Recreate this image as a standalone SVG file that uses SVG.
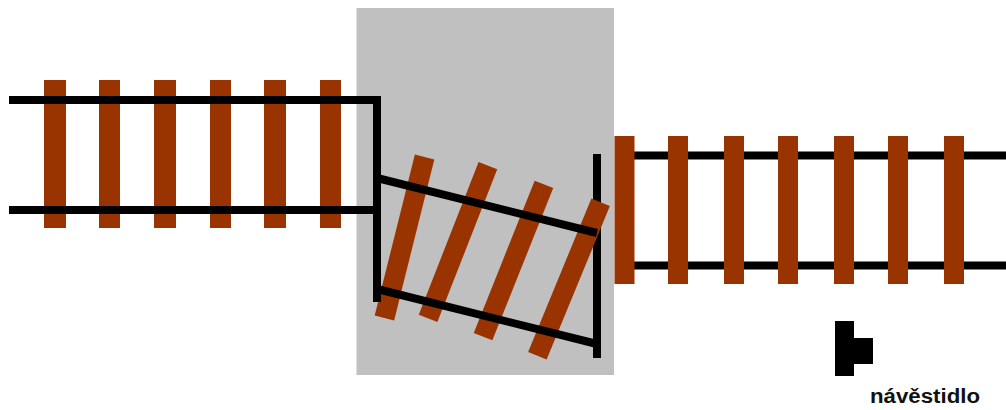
<svg xmlns="http://www.w3.org/2000/svg" width="1006" height="410" viewBox="0 0 1006 410">
  <style>
    .tie { fill: #993300; }
    .rail { stroke: #000; stroke-width: 8; fill: none; }
    .label { font-family: "Liberation Sans", Arial, sans-serif; font-weight: bold; font-size: 20px; fill: #111; }
  </style>
  <rect width="1006" height="410" fill="#fff"/>

  <!-- turntable pit -->
  <rect id="pit" x="356.5" y="8" width="257.5" height="367" fill="#c0c0c0"/>

  <!-- left approach track: rails laid over sleepers -->
  <g id="track-left">
    <rect class="tie" x="44" y="80" width="22" height="148"/>
    <rect class="tie" x="99" y="80" width="21" height="148"/>
    <rect class="tie" x="154" y="80" width="22" height="148"/>
    <rect class="tie" x="210" y="80" width="21" height="148"/>
    <rect class="tie" x="264" y="80" width="22" height="148"/>
    <rect class="tie" x="320" y="80" width="21" height="148"/>
    <path class="rail" d="M9 100 H377 M9 210 H377"/>
  </g>

  <!-- right track: sleepers laid over rails -->
  <g id="track-right">
    <path class="rail" d="M615 155.5 H1006 M615 265.5 H1006"/>
    <rect class="tie" x="614.5" y="136" width="20" height="148"/>
    <rect class="tie" x="668" y="136" width="20" height="148"/>
    <rect class="tie" x="724" y="136" width="20" height="148"/>
    <rect class="tie" x="778" y="136" width="20" height="148"/>
    <rect class="tie" x="834" y="136" width="20" height="148"/>
    <rect class="tie" x="888" y="136" width="20" height="148"/>
    <rect class="tie" x="944" y="136" width="20" height="148"/>
  </g>

  <!-- swung bridge section inside the pit -->
  <g id="bridge">
    <path class="rail" d="M597 154 V358"/>
    <rect class="tie" x="-10" y="-83" width="20" height="166" transform="translate(404.5 237.5) rotate(14)"/>
    <rect class="tie" x="-10" y="-82" width="20" height="164" transform="translate(458 242) rotate(21.4)"/>
    <rect class="tie" x="-10" y="-82" width="20" height="164" transform="translate(513.5 260.5) rotate(21.8)"/>
    <rect class="tie" x="-10" y="-83" width="20" height="166" transform="translate(569 279) rotate(22.4)"/>
    <path class="rail" d="M377 96 V302"/>
    <path class="rail" d="M377 178 L597 233 M377 289 L597 344"/>
  </g>

  <!-- signal -->
  <g id="signal">
    <path d="M835 321 H854 V338 H873 V364 H854 V376 H835 Z" fill="#000"/>
    <text class="label" x="870" y="403" textLength="110" lengthAdjust="spacingAndGlyphs">návěstidlo</text>
  </g>
</svg>
